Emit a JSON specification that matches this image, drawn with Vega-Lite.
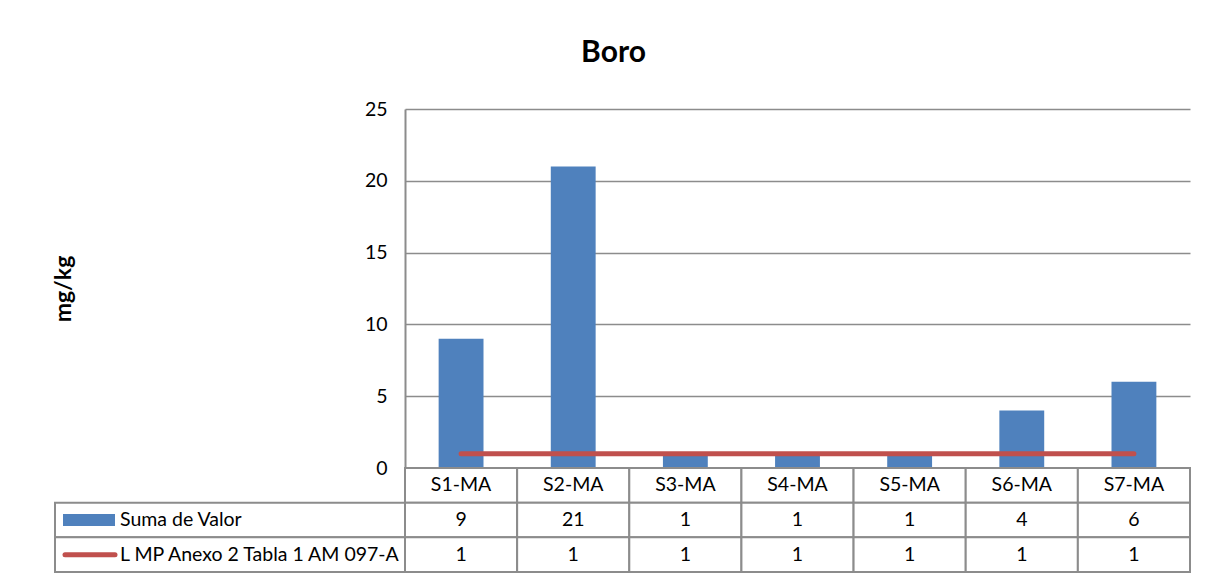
{
  "$schema": "https://vega.github.io/schema/vega-lite/v6.json",
  "background": "white",
  "padding": {"left": 52, "top": 38, "right": 10, "bottom": 5},
  "data": {"values": [
    {"Muestra": "S1-MA", "Suma de Valor": 9, "L MP Anexo 2 Tabla 1 AM 097-A": 1},
    {"Muestra": "S2-MA", "Suma de Valor": 21, "L MP Anexo 2 Tabla 1 AM 097-A": 1},
    {"Muestra": "S3-MA", "Suma de Valor": 1, "L MP Anexo 2 Tabla 1 AM 097-A": 1},
    {"Muestra": "S4-MA", "Suma de Valor": 1, "L MP Anexo 2 Tabla 1 AM 097-A": 1},
    {"Muestra": "S5-MA", "Suma de Valor": 1, "L MP Anexo 2 Tabla 1 AM 097-A": 1},
    {"Muestra": "S6-MA", "Suma de Valor": 4, "L MP Anexo 2 Tabla 1 AM 097-A": 1},
    {"Muestra": "S7-MA", "Suma de Valor": 6, "L MP Anexo 2 Tabla 1 AM 097-A": 1}
  ]},
  "title": {"text": "Boro", "fontSize": 30, "fontWeight": "bold", "font": "Lato", "color": "#000000", "anchor": "middle", "offset": 31, "dx": -8},
  "columns": 2,
  "spacing": 0,
  "bounds": "flush",
  "align": "each",
  "resolve": {"scale": {"x": "independent", "y": "independent"}},
  "concat": [
    {
      "width": 350, "height": 359,
      "data": {"values": []},
      "mark": "point"
    },
    {
      "width": 785, "height": 359,
      "encoding": {
        "x": {"field": "Muestra", "type": "nominal", "sort": null,
              "scale": {"paddingInner": 0.6, "paddingOuter": 0.3},
              "axis": {"labels": false, "ticks": false, "title": null, "domainColor": "#8c8c8c", "domainWidth": 2}}
      },
      "layer": [
        {
          "mark": {"type": "bar", "color": "#4F81BD"},
          "encoding": {
            "y": {"field": "Suma de Valor", "type": "quantitative",
                  "scale": {"domain": [0, 25], "nice": false},
                  "axis": {"title": "mg/kg", "values": [0, 5, 10, 15, 20, 25],
                           "grid": true, "gridColor": "#8c8c8c", "gridWidth": 1.5,
                           "ticks": false, "domainColor": "#8c8c8c", "domainWidth": 2,
                           "labelFontSize": 19.5, "labelPadding": 18, "labelColor": "#000000", "labelFont": "Lato",
                           "titleFontSize": 23, "titleFontWeight": "bold", "titleColor": "#000000", "titleFont": "Lato",
                           "titleX": -330, "titleY": 179.5}}
          }
        },
        {
          "mark": {"type": "line", "color": "#C0504D", "strokeWidth": 5, "strokeCap": "round"},
          "encoding": {
            "y": {"field": "L MP Anexo 2 Tabla 1 AM 097-A", "type": "quantitative"}
          }
        }
      ]
    },
    {
      "width": 350, "height": 104,
      "transform": [
        {"fold": ["Suma de Valor", "L MP Anexo 2 Tabla 1 AM 097-A"]},
        {"aggregate": [{"op": "count", "as": "n"}], "groupby": ["key"]}
      ],
      "encoding": {
        "y": {"field": "key", "type": "nominal",
              "scale": {"domain": ["Muestra", "Suma de Valor", "L MP Anexo 2 Tabla 1 AM 097-A"], "paddingInner": 0, "paddingOuter": 0},
              "axis": null}
      },
      "layer": [
        {"mark": {"type": "rect", "fill": "#ffffff", "stroke": "#8c8c8c", "strokeWidth": 2}},
        {
          "transform": [{"filter": "datum.key === 'Suma de Valor'"}],
          "mark": {"type": "rule", "color": "#4F81BD", "strokeWidth": 12},
          "encoding": {"x": {"datum": 8, "type": "quantitative", "scale": {"domain": [0, 350]}, "axis": null}, "x2": {"datum": 60}}
        },
        {
          "transform": [{"filter": "datum.key !== 'Suma de Valor'"}],
          "mark": {"type": "rule", "color": "#C0504D", "strokeWidth": 5, "strokeCap": "round"},
          "encoding": {"x": {"datum": 10, "type": "quantitative"}, "x2": {"datum": 60}}
        },
        {
          "mark": {"type": "text", "align": "left", "baseline": "middle", "fontSize": 19.5, "font": "Lato", "color": "#000000"},
          "encoding": {"x": {"datum": 65, "type": "quantitative"}, "text": {"field": "key"}}
        }
      ]
    },
    {
      "width": 785, "height": 104,
      "transform": [
        {"fold": ["Muestra", "Suma de Valor", "L MP Anexo 2 Tabla 1 AM 097-A"]}
      ],
      "encoding": {
        "x": {"field": "Muestra", "type": "nominal", "sort": null,
              "scale": {"paddingInner": 0, "paddingOuter": 0}, "axis": null},
        "y": {"field": "key", "type": "nominal",
              "scale": {"domain": ["Muestra", "Suma de Valor", "L MP Anexo 2 Tabla 1 AM 097-A"], "paddingInner": 0, "paddingOuter": 0},
              "axis": null}
      },
      "layer": [
        {"mark": {"type": "rect", "fill": "#ffffff", "stroke": "#8c8c8c", "strokeWidth": 2}},
        {
          "mark": {"type": "text", "align": "center", "baseline": "middle", "fontSize": 19.5, "font": "Lato", "color": "#000000"},
          "encoding": {"text": {"field": "value", "type": "nominal"}}
        }
      ]
    }
  ],
  "config": {
    "view": {"stroke": null},
    "font": "Lato"
  }
}
